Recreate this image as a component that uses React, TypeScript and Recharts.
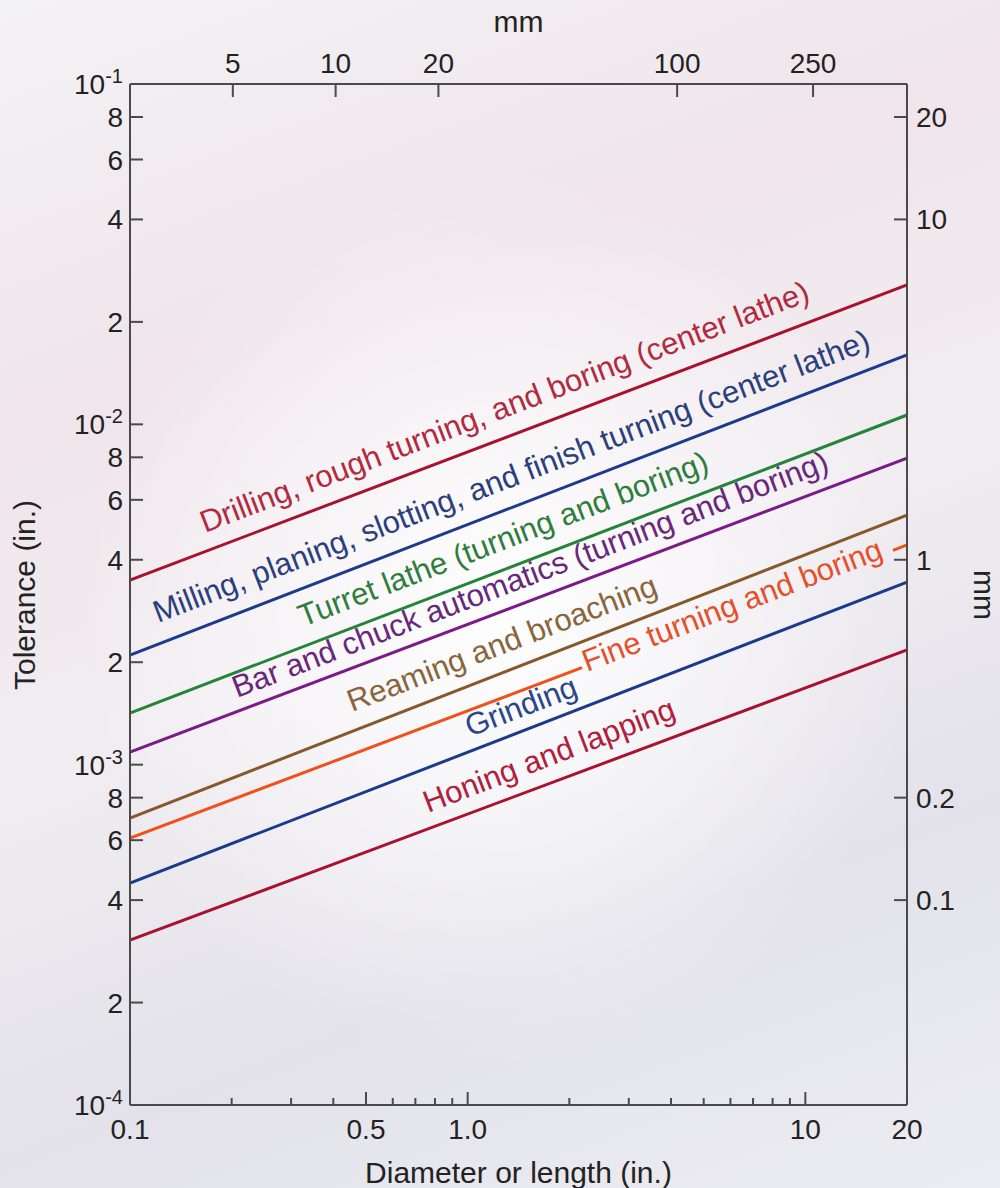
import { Label, Line, LineChart, ReferenceDot, XAxis, YAxis } from 'recharts';

// tolerance (in.) against diameter (in.), both ends of each band line
const drilling = [{ x: 0.1, y: 0.003486 }, { x: 20, y: 0.02567 }];
const milling = [{ x: 0.1, y: 0.0021 }, { x: 20, y: 0.016 }];
const turret = [{ x: 0.1, y: 0.001418 }, { x: 20, y: 0.01065 }];
const barChuck = [{ x: 0.1, y: 0.001089 }, { x: 20, y: 0.00796 }];
const reaming = [{ x: 0.1, y: 0.000697 }, { x: 20, y: 0.005413 }];
// fine turning is broken where its label sits on the line
const fineLeft = [{ x: 0.1, y: 0.000608 }, { x: 2.18, y: 0.001927 }];
const fineRight = [{ x: 18.17, y: 0.004262 }, { x: 20, y: 0.00442 }];
const grinding = [{ x: 0.1, y: 0.000449 }, { x: 20, y: 0.00344 }];
const honing = [{ x: 0.1, y: 0.000305 }, { x: 20, y: 0.002173 }];

const bottomTicks = [0.1, 0.2, 0.3, 0.4, 0.5, 0.6, 0.7, 0.8, 0.9, 1, 2, 3, 4, 5, 6, 7, 8, 9, 10, 20];
const bottomMajor = [0.5, 1, 10];
const bottomLabelValues = [0.1, 0.5, 1, 10, 20];
const bottomLabelText = ['0.1', '0.5', '1.0', '10', '20'];

// mm scale along the top, as printed (its range runs a little off a strict inch conversion)
const topRange = [2.5, 471];
const topTicks = [5, 10, 20, 100, 250];

const leftTicks = [1e-4, 2e-4, 4e-4, 6e-4, 8e-4, 1e-3, 2e-3, 4e-3, 6e-3, 8e-3, 1e-2, 2e-2, 4e-2, 6e-2, 8e-2, 1e-1];
const leftTickText = ['10|-4', '2', '4', '6', '8', '10|-3', '2', '4', '6', '8', '10|-2', '2', '4', '6', '8', '10|-1'];

const rightRange = [0.025, 25];
const rightTicks = [0.1, 0.2, 1, 10, 20];
const rightTickText = ['0.1', '0.2', '1', '10', '20'];

// label text, start of its baseline in data coordinates
const bandLabels = [
  { text: 'Drilling, rough turning, and boring (center lathe)', x: 0.1667, y: 0.004793, color: '#b12a3e' },
  { text: 'Milling, planing, slotting, and finish turning (center lathe)', x: 0.121, y: 0.002607, color: '#2b3f7c' },
  { text: 'Turret lathe (turning and boring)', x: 0.3253, y: 0.002537, color: '#2f7d3c' },
  { text: 'Bar and chuck automatics (turning and boring)', x: 0.2074, y: 0.001569, color: '#68277a' },
  { text: 'Reaming and broaching', x: 0.4544, y: 0.001427, color: '#8a653b' },
  { text: 'Fine turning and boring', x: 2.256, y: 0.001871, color: '#e4502c' },
  { text: 'Grinding', x: 1.016, y: 0.001205, color: '#2a468a' },
  { text: 'Honing and lapping', x: 0.7627, y: 0.000721, color: '#b0203c' },
];

const FONT = '"Liberation Sans", Arial, Helvetica, sans-serif';
const AXIS = '#4a4a4a';
const TEXT = '#222';
const TICK_FS = 28;
const TITLE_FS = 30;
const BAND_FS = 31;

function BottomTick(props: any) {
  const { x, y, payload } = props;
  const v = payload.value;
  const i = bottomLabelValues.indexOf(v);
  const edge = v === 0.1 || v === 20;
  return (
    <g>
      {!edge && (
        <line x1={x} x2={x} y1={y} y2={y - (bottomMajor.includes(v) ? 13 : 7)} stroke={AXIS} strokeWidth={2} />
      )}
      {i >= 0 && (
        <text x={x} y={y + 34} textAnchor="middle" fontFamily={FONT} fontSize={TICK_FS} fill={TEXT}>
          {bottomLabelText[i]}
        </text>
      )}
    </g>
  );
}

function TopTick(props: any) {
  const { x, y, payload } = props;
  return (
    <g>
      <line x1={x} x2={x} y1={y} y2={y + 13} stroke={AXIS} strokeWidth={2} />
      <text x={x} y={y - 11} textAnchor="middle" fontFamily={FONT} fontSize={TICK_FS} fill={TEXT}>
        {payload.value}
      </text>
    </g>
  );
}

function LeftTick(props: any) {
  const { x, y, payload } = props;
  const label = leftTickText[leftTicks.indexOf(payload.value)] ?? '';
  const [base, exp] = label.split('|');
  return (
    <g>
      <line x1={x} x2={x + 13} y1={y} y2={y} stroke={AXIS} strokeWidth={2} />
      <text x={x - 7} y={y + 10} textAnchor="end" fontFamily={FONT} fontSize={TICK_FS} fill={TEXT}>
        {base}
        {exp && (
          <tspan fontSize={20} dy={-11}>
            {exp}
          </tspan>
        )}
      </text>
    </g>
  );
}

function RightTick(props: any) {
  const { x, y, payload } = props;
  const label = rightTickText[rightTicks.indexOf(payload.value)];
  return (
    <g>
      <line x1={x} x2={x - 13} y1={y} y2={y} stroke={AXIS} strokeWidth={2} />
      <text x={x + 9} y={y + 10} textAnchor="start" fontFamily={FONT} fontSize={TICK_FS} fill={TEXT}>
        {label}
      </text>
    </g>
  );
}

const lineProps = {
  xAxisId: 'in',
  yAxisId: 'in',
  dataKey: 'y',
  dot: false,
  activeDot: false,
  strokeWidth: 3,
  isAnimationActive: false,
  legendType: 'none' as const,
};

export default function App() {
  return (
    <div
      style={{
        position: 'absolute',
        left: 0,
        top: 0,
        width: 1000,
        height: 1188,
        background:
          'radial-gradient(ellipse 42% 38% at 50% 52%, rgba(255,255,255,0.95), rgba(255,255,255,0) 100%), linear-gradient(160deg, #f3f2f5 0%, #efe5eb 28%, #f1edf1 50%, #e3e2ea 75%, #ecedf2 100%)',
      }}
    >
      <LineChart width={1000} height={1188} margin={{ top: 0, right: 0, bottom: 0, left: 0 }}>
        <XAxis
          xAxisId="in"
          dataKey="x"
          type="number"
          scale="log"
          domain={[0.1, 20]}
          allowDataOverflow
          ticks={bottomTicks}
          interval={0}
          tick={<BottomTick />}
          tickLine={false}
          tickSize={0}
          tickMargin={0}
          height={83}
          axisLine={{ stroke: AXIS, strokeWidth: 2 }}
        >
          <Label
            value="Diameter or length (in.)"
            position="insideBottom"
            offset={5}
            style={{ fontFamily: FONT, fontSize: TITLE_FS, fill: TEXT }}
          />
        </XAxis>
        <XAxis
          xAxisId="mm"
          dataKey="x"
          orientation="top"
          type="number"
          scale="log"
          domain={topRange}
          allowDataOverflow
          ticks={topTicks}
          interval={0}
          tick={<TopTick />}
          tickLine={false}
          tickSize={0}
          tickMargin={0}
          height={84}
          axisLine={{ stroke: AXIS, strokeWidth: 2 }}
        >
          <Label
            value="mm"
            position="insideTop"
            offset={11}
            style={{ fontFamily: FONT, fontSize: TITLE_FS, fill: TEXT }}
          />
        </XAxis>
        <YAxis
          yAxisId="in"
          type="number"
          scale="log"
          domain={[1e-4, 1e-1]}
          allowDataOverflow
          ticks={leftTicks}
          interval={0}
          tick={<LeftTick />}
          tickLine={false}
          tickSize={0}
          tickMargin={0}
          width={130}
          axisLine={{ stroke: AXIS, strokeWidth: 2 }}
        >
          <Label
            content={() => (
              <text
                x={35}
                y={595}
                transform="rotate(-90 35 595)"
                textAnchor="middle"
                fontFamily={FONT}
                fontSize={TITLE_FS}
                fill={TEXT}
              >
                Tolerance (in.)
              </text>
            )}
          />
        </YAxis>
        <YAxis
          yAxisId="mmR"
          orientation="right"
          type="number"
          scale="log"
          domain={rightRange}
          allowDataOverflow
          ticks={rightTicks}
          interval={0}
          tick={<RightTick />}
          tickLine={false}
          tickSize={0}
          tickMargin={0}
          width={93}
          axisLine={{ stroke: AXIS, strokeWidth: 2 }}
        >
          <Label
            content={() => (
              <text
                x={974}
                y={595}
                transform="rotate(90 974 595)"
                textAnchor="middle"
                fontFamily={FONT}
                fontSize={TITLE_FS}
                fill={TEXT}
              >
                mm
              </text>
            )}
          />
        </YAxis>

        {/* carries the mm axes, draws nothing */}
        <Line
          xAxisId="mm"
          yAxisId="mmR"
          dataKey="y"
          data={[
            { x: topRange[0], y: rightRange[0] },
            { x: topRange[1], y: rightRange[1] },
          ]}
          stroke="none"
          dot={false}
          activeDot={false}
          isAnimationActive={false}
          legendType="none"
        />

        <Line {...lineProps} data={drilling} stroke="#a8122f" />
        <Line {...lineProps} data={milling} stroke="#1d3a8c" />
        <Line {...lineProps} data={turret} stroke="#23843a" />
        <Line {...lineProps} data={barChuck} stroke="#7a1b88" />
        <Line {...lineProps} data={reaming} stroke="#86582a" />
        <Line {...lineProps} data={fineLeft} stroke="#f0501a" />
        <Line {...lineProps} data={fineRight} stroke="#f0501a" />
        <Line {...lineProps} data={grinding} stroke="#1b3a8c" />
        <Line {...lineProps} data={honing} stroke="#a8122f" />

        {bandLabels.map((b) => (
          <ReferenceDot
            key={b.text}
            xAxisId="in"
            yAxisId="in"
            x={b.x}
            y={b.y}
            r={0}
            shape={(p: any) => (
              <text
                x={p.cx}
                y={p.cy}
                transform={`rotate(-21 ${p.cx} ${p.cy})`}
                fontFamily={FONT}
                fontSize={BAND_FS}
                fill={b.color}
              >
                {b.text}
              </text>
            )}
          />
        ))}
      </LineChart>
    </div>
  );
}
